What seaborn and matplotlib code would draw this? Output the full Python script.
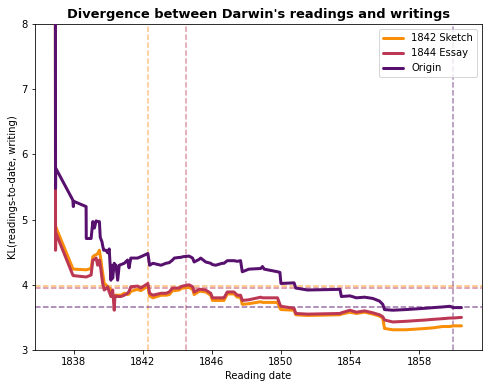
import numpy as np
import pandas as pd
import seaborn as sns
import matplotlib
matplotlib.use("Agg")
import matplotlib.pyplot as plt

# reading dates (decimal years)
dates = [1836.93, 1836.94, 1836.95, 1837.94, 1837.97, 1838.0, 1838.71, 1838.72, 1839.0, 1839.1,
         1839.19, 1839.29, 1839.38, 1839.48, 1839.53, 1839.57, 1839.63, 1839.67, 1839.73, 1839.76,
         1839.86, 1839.96, 1840.05, 1840.15, 1840.21, 1840.25, 1840.34, 1840.38, 1840.44, 1840.54,
         1840.63, 1840.73, 1840.92, 1841.11, 1841.20,
         1841.30, 1841.69, 1841.88, 1842.29, 1842.39, 1842.58, 1843.05, 1843.34, 1843.53, 1843.72,
         1843.82, 1844.11, 1844.20, 1844.30, 1844.68, 1844.88, 1844.97, 1845.26, 1845.35, 1845.64,
         1845.93, 1846.03, 1846.22, 1846.60, 1846.70, 1846.89, 1847.28, 1847.47, 1847.66, 1847.76,
         1848.14, 1848.83, 1848.93, 1849.03, 1849.80, 1849.94, 1850.0, 1850.76, 1850.86, 1851.54,
         1853.42, 1853.50, 1854.0, 1854.37, 1854.85, 1855.33, 1855.71, 1855.90, 1856.0, 1856.48,
         1857.25, 1858.37, 1858.83, 1859.36, 1859.79, 1859.98, 1860.46]

sketch_1842 = [8.5, 4.55, 4.89, 4.25, 4.24, 4.24, 4.23, 4.23, 4.25, 4.43,
               4.45, 4.46, 4.48, 4.53, 4.45, 4.38, 4.25, 4.18, 4.08, 4.02,
               4.0, 3.97, 3.95, 3.92, 3.88, 3.82, 3.83, 3.84, 3.84, 3.84,
               3.84, 3.84, 3.87, 3.85, 3.86,
               3.90, 3.93, 3.91, 3.98, 3.83, 3.80, 3.84, 3.84, 3.85, 3.91,
               3.91, 3.92, 3.94, 3.95, 3.96, 3.93, 3.85, 3.90, 3.90, 3.89,
               3.84, 3.76, 3.76, 3.76, 3.76, 3.86, 3.86, 3.81, 3.81, 3.70,
               3.71, 3.74, 3.73, 3.73, 3.73, 3.64, 3.62, 3.61, 3.54, 3.53,
               3.54, 3.55, 3.58, 3.56, 3.58, 3.55, 3.52, 3.49, 3.33, 3.31,
               3.31, 3.33, 3.34, 3.36, 3.36, 3.37, 3.37]

essay_1844 = [9.0, 4.53, 4.80, 4.15, 4.14, 4.14, 4.12, 4.12, 4.15, 4.38,
              4.39, 4.41, 4.30, 4.38, 4.30, 4.23, 4.10, 4.02, 3.96, 3.92,
              3.94, 3.97, 3.89, 3.82, 3.86, 3.92, 3.61, 3.82, 3.83, 3.82,
              3.82, 3.82, 3.84, 3.87, 3.90,
              3.97, 3.98, 3.95, 4.02, 3.87, 3.84, 3.87, 3.87, 3.89, 3.95,
              3.95, 3.95, 3.97, 3.98, 4.00, 3.97, 3.89, 3.93, 3.93, 3.92,
              3.87, 3.80, 3.80, 3.80, 3.80, 3.89, 3.89, 3.84, 3.84, 3.76,
              3.77, 3.81, 3.80, 3.80, 3.80, 3.70, 3.67, 3.64, 3.56, 3.55,
              3.56, 3.57, 3.61, 3.58, 3.60, 3.57, 3.54, 3.51, 3.46, 3.43,
              3.44, 3.46, 3.47, 3.48, 3.49, 3.49, 3.50]

origin = [9.5, 5.48, 5.79, 5.30, 5.20, 5.28, 5.20, 4.71, 4.71, 4.97,
          4.87, 4.98, 4.97, 4.97, 4.73, 4.70, 4.66, 4.60, 4.53, 4.53,
          4.53, 4.49, 4.55, 4.07, 4.30, 4.10, 4.33, 4.31, 4.30, 4.07,
          4.30, 4.31, 4.33, 4.38, 4.26,
          4.41, 4.41, 4.43, 4.48, 4.30, 4.33, 4.30, 4.33, 4.34, 4.38,
          4.41, 4.42, 4.42, 4.43, 4.44, 4.41, 4.35, 4.39, 4.41, 4.35,
          4.33, 4.31, 4.30, 4.33, 4.33, 4.37, 4.37, 4.36, 4.37, 4.20,
          4.24, 4.25, 4.28, 4.24, 4.20, 4.19, 4.02, 4.03, 3.95, 3.92,
          3.93, 3.82, 3.83, 3.80, 3.81, 3.79, 3.75, 3.70, 3.62, 3.61,
          3.62, 3.64, 3.65, 3.66, 3.67, 3.65, 3.65]

labels = ["1842 Sketch", "1844 Essay", "Origin"]
writing_dates = [1842.3, 1844.5, 1859.95]
writing_kl = [3.98, 3.955, 3.66]

df = pd.concat([
    pd.DataFrame({"date": dates, "kl": vals, "text": lab})
    for lab, vals in zip(labels, [sketch_1842, essay_1844, origin])
])

sns.set_style("ticks", {"axes.edgecolor": "black", "text.color": "black",
                        "axes.labelcolor": "black", "xtick.color": "black",
                        "ytick.color": "black"})
colors = sns.color_palette("inferno", 3)[::-1]

fig, ax = plt.subplots(figsize=(491 / 72, 388 / 72), dpi=72)
fig.subplots_adjust(left=0.0713, right=0.9817, bottom=0.098, top=0.938)

for c, d, k in zip(colors, writing_dates, writing_kl):
    ax.axvline(d, color=c, ls="--", lw=1.5, alpha=0.5, zorder=1)
    ax.axhline(k, color=c, ls="--", lw=1.5, alpha=0.6, zorder=1)

sns.lineplot(data=df, x="date", y="kl", hue="text", hue_order=labels,
             palette=colors, estimator=None, sort=False, lw=3, ax=ax, zorder=3)

ax.set_xlim(1835.75, 1861.65)
ax.set_ylim(3, 8)
ax.set_xticks([1838, 1842, 1846, 1850, 1854, 1858])
ax.set_xticklabels(["1838", "1842", "1846", "1850", "1854", "1858"])
ax.tick_params(labelsize=10)
ax.set_xlabel("Reading date", fontsize=10)
ax.set_ylabel("KL(readings-to-date, writing)", fontsize=10)
ax.set_title("Divergence between Darwin's readings and writings", fontsize=13, fontweight="bold")
ax.legend(title=None, loc="upper right", fontsize=10)

fig.savefig("out.png", dpi=72)
